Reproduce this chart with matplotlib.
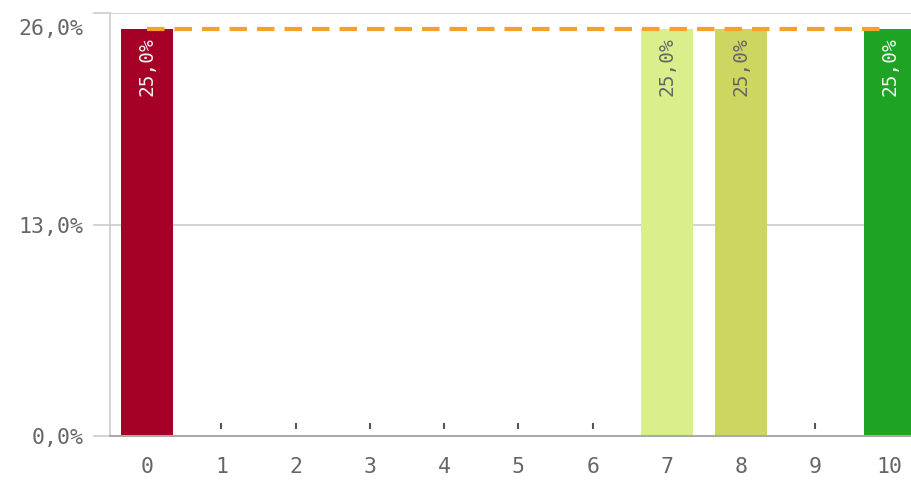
import matplotlib
matplotlib.use("Agg")
import matplotlib.pyplot as plt
import matplotlib.transforms as mtransforms

categories = ["0", "1", "2", "3", "4", "5", "6", "7", "8", "9", "10"]
values = [25.0, 0, 0, 0, 0, 0, 0, 25.0, 25.0, 0, 25.0]
bar_colors = ["#A50026", "#FFFFFF", "#FFFFFF", "#FFFFFF", "#FFFFFF", "#FFFFFF",
              "#FFFFFF", "#D9EF8B", "#CDD660", "#FFFFFF", "#1FA324"]
label_colors = ["#F2F2F2", None, None, None, None, None, None, "#666666", "#666666", None, "#F2F2F2"]
target = 25.0
y_ticks = [0, 13, 26]
y_tick_labels = ["0,0%", "13,0%", "26,0%"]

plt.rcParams['font.family'] = ['DejaVu Sans Mono']
fig = plt.figure(figsize=(9.12, 4.83), dpi=100)
ax = fig.add_axes([110/912, 47/483, (912-110)/912, (436-13)/483])

x = list(range(len(categories)))
for xi, v, c in zip(x, values, bar_colors):
    if v > 0:
        ax.bar(xi, v, width=0.7, color=c, zorder=2)

# tiny markers for zero categories
offset = mtransforms.ScaledTranslation(0, 10.5/100, fig.dpi_scale_trans)
zx = [xi for xi, v in zip(x, values) if v == 0]
ax.plot(zx, [0]*len(zx), linestyle='none', marker='|', markersize=4, markeredgewidth=1.5,
        color='#555555', transform=ax.transData + offset, zorder=3)

# value labels
for xi, v, lc in zip(x, values, label_colors):
    if v > 0:
        ax.text(xi, v - 0.5, f"{v:.1f}".replace(".", ",") + "%",
                rotation=90, ha='center', va='top', color=lc, fontsize=14, zorder=4)

# target dashed line
ax.plot([0, 9.95], [target, target], linestyle=(0, (4.2, 2.4)), color='#F7A12A',
        linewidth=3, zorder=5)

ax.set_xlim(-0.5, 10.3)
ax.set_ylim(0, 26)
ax.set_xticks(x)
ax.set_xticklabels(categories)
ax.set_yticks(y_ticks)
ax.set_yticklabels(y_tick_labels)
ax.grid(axis='y', color='#CCCCCC', linewidth=1.2, zorder=0)
ax.tick_params(axis='x', length=0, pad=15, labelsize=15.5, labelcolor='#666666')
ax.tick_params(axis='y', length=12, color='#CCCCCC', width=1.2, pad=7,
               labelsize=15.5, labelcolor='#666666')
down = mtransforms.ScaledTranslation(0, -6/100, fig.dpi_scale_trans)
for lab in ax.get_yticklabels():
    if lab.get_text() == "26,0%":
        lab.set_va('top')
        lab.set_transform(lab.get_transform() + down)
for s in ['top', 'right']:
    ax.spines[s].set_visible(False)
ax.spines['left'].set_color('#CCCCCC')
ax.spines['left'].set_linewidth(1.2)
ax.spines['bottom'].set_color('#AAAAAA')
ax.spines['bottom'].set_linewidth(1.5)

fig.savefig("out.png", dpi=100)
